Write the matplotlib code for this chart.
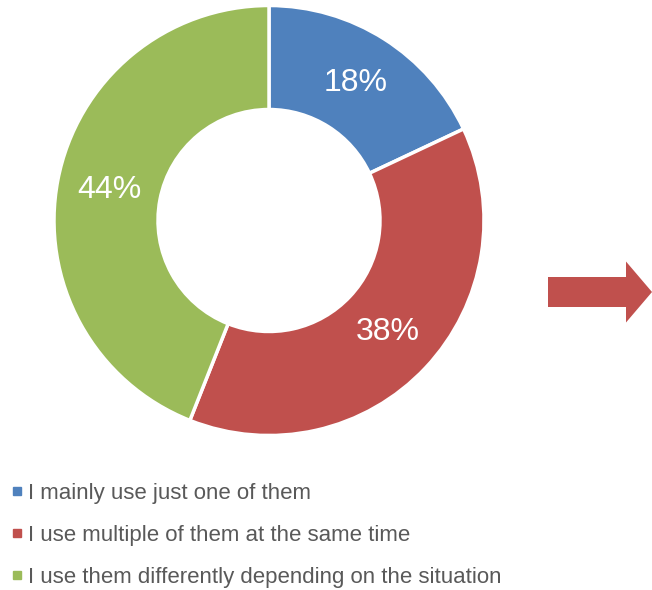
import matplotlib
matplotlib.use("Agg")
import matplotlib.pyplot as plt
from matplotlib.patches import FancyArrow
from matplotlib.lines import Line2D

plt.rcParams["font.family"] = ["Liberation Sans", "DejaVu Sans"]

labels = [
    "I mainly use just one of them",
    "I use multiple of them at the same time",
    "I use them differently depending on the situation",
]
shares = [18, 38, 44]
colors = ["#4F81BD", "#C0504D", "#9BBB59"]

W, H = 652, 590
fig = plt.figure(figsize=(W / 100, H / 100), dpi=100)
ax = fig.add_axes([0, 0, 1, 1])

# donut, laid out in pixel-like units (y up)
R, ring = 215, 104
wedges, _, pcts = ax.pie(
    shares, colors=colors, startangle=90, counterclock=False,
    center=(269, H - 220.5), radius=R, frame=True,
    autopct=lambda p: f"{p:.0f}%", pctdistance=0.755,
    wedgeprops=dict(width=ring, edgecolor="white", linewidth=2.5),
    textprops=dict(color="white", fontsize=23),
)

# arrow on the right
ax.add_patch(FancyArrow(548, H - 292, 104, 0, width=30, head_width=61,
                        head_length=26, length_includes_head=True,
                        color="#C0504D", lw=0))

handles = [Line2D([], [], marker="s", ls="", markersize=5.8, color=c)
           for c in colors]
ax.legend(handles, labels, loc="upper left", bbox_to_anchor=(0.007, 0.1935),
          frameon=False, fontsize=16, labelcolor="#595959",
          handlelength=0.55, handletextpad=0.22, labelspacing=0.96,
          borderaxespad=0, borderpad=0.3)

ax.set_xlim(0, W)
ax.set_ylim(0, H)
ax.set_aspect("equal")
ax.axis("off")

fig.savefig("out.png", dpi=100)
